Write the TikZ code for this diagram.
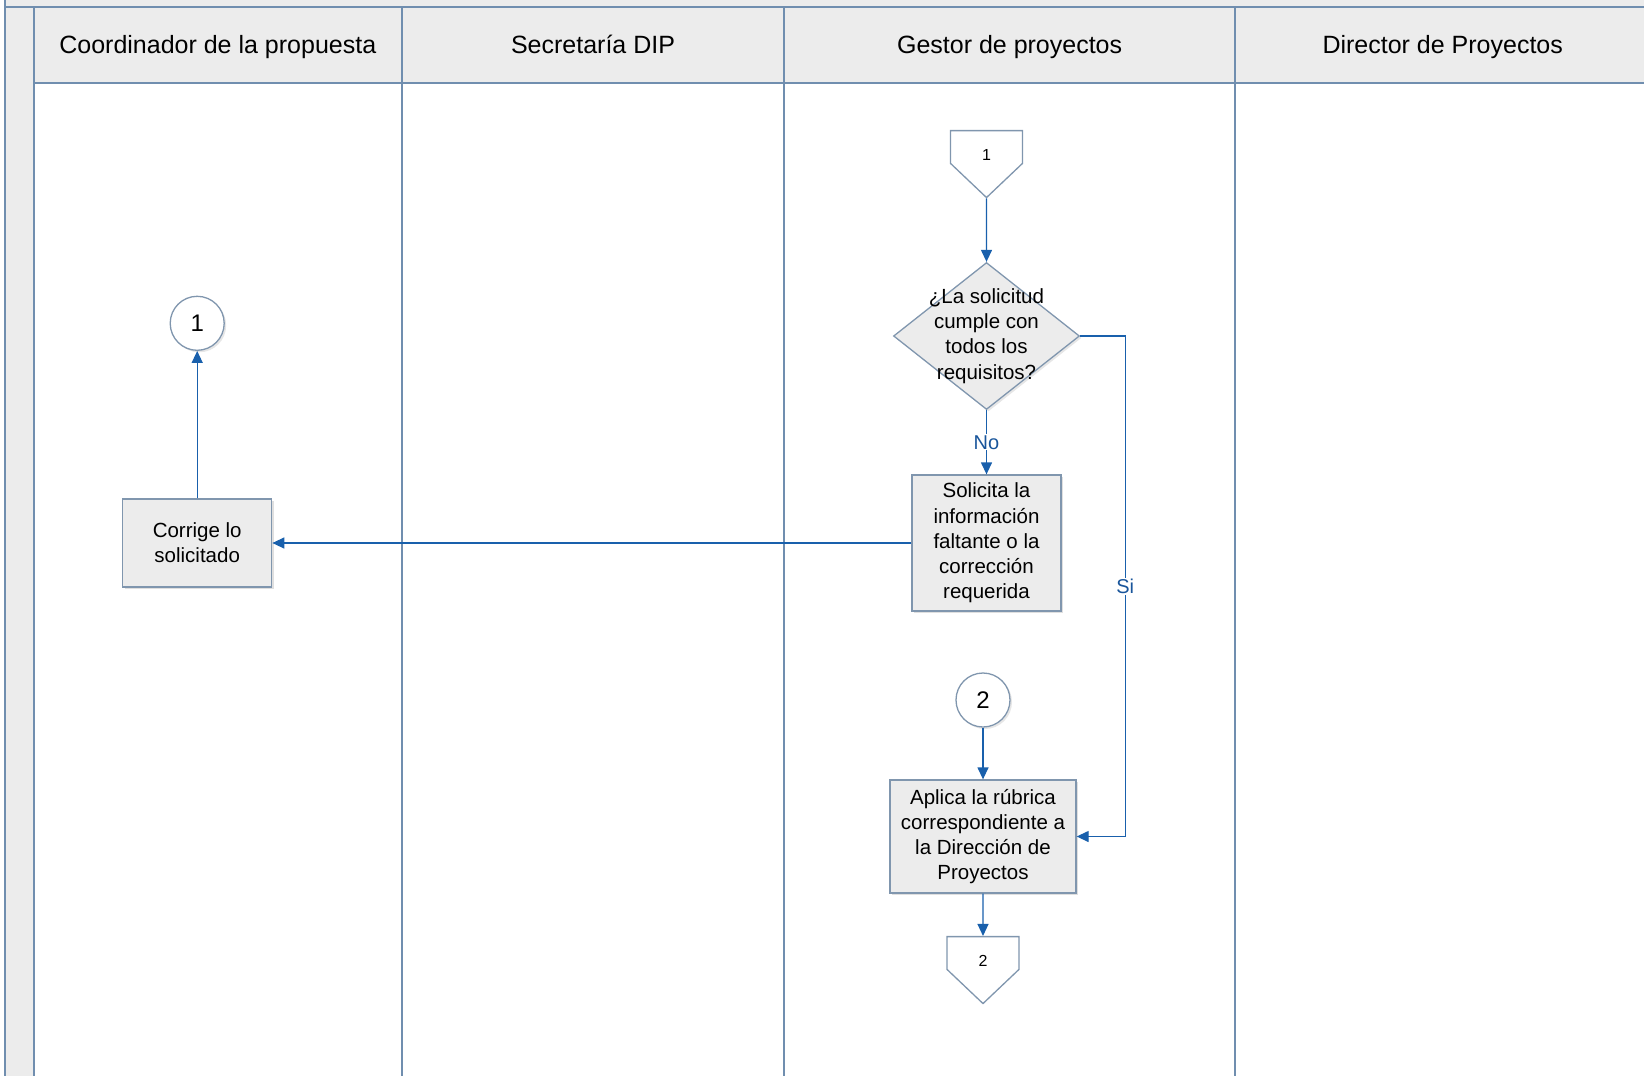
\documentclass[tikz,border=0pt]{standalone}
\usepackage{fontspec}
\setmainfont{Liberation Sans}
\usetikzlibrary{arrows.meta,shapes.geometric,shapes.symbols,shadows}

\definecolor{laneline}{RGB}{112,142,175}
\definecolor{boxline}{RGB}{128,150,174}
\definecolor{flowblue}{RGB}{25,96,172}
\definecolor{labelblue}{RGB}{25,85,155}
\definecolor{boxfill}{RGB}{236,236,236}

\tikzset{
  lane/.style={draw=laneline, line width=2pt},
  heading/.style={anchor=base, font=\fontsize{25}{30}\selectfont},
  task/.style={draw=boxline, fill=boxfill, line width=1.3pt, align=center,
    inner sep=0pt, font=\fontsize{20.5}{25.2}\selectfont,
    drop shadow={shadow xshift=2pt, shadow yshift=-2pt, opacity=0.25}},
  decision/.style={diamond, draw=boxline, fill=boxfill, line width=1.3pt,
    minimum width=186pt, minimum height=147pt, inner sep=0pt,
    drop shadow={shadow xshift=2pt, shadow yshift=-2pt, opacity=0.2}},
  conn/.style={circle, draw=boxline, fill=white, line width=1.3pt,
    minimum size=54pt, inner sep=0pt, font=\fontsize{24}{28}\selectfont,
    drop shadow={shadow xshift=2pt, shadow yshift=-2pt, opacity=0.2}},
  offpage/.style={signal, signal to=south, signal from=nowhere,
    signal pointer angle=93, draw=boxline, fill=white, line width=1.3pt,
    minimum width=72pt, minimum height=37pt, inner sep=0pt,
    text height=27pt, text depth=0pt,
    font=\fontsize{16}{20}\selectfont},
  flow/.style={->, draw=flowblue, line width=1.3pt},
  flowlabel/.style={fill=white, text=labelblue, inner sep=1pt,
    font=\fontsize{20}{24}\selectfont}
}

\begin{document}
\begin{tikzpicture}[x=1pt, y=-1pt, >={Triangle[width=11pt,length=12pt]}]
\useasboundingbox (0,0) rectangle (1644,1076);

% pool and lanes
\fill[boxfill] (5,-20) rectangle (1660,7);
\fill[boxfill] (5,7) rectangle (34,1090);
\fill[boxfill] (34,7) rectangle (1660,83);
\draw[lane] (5,-20) -- (5,1090);
\draw[lane] (5,7) -- (1660,7);
\draw[lane] (34,83) -- (1660,83);
\foreach \x in {34,401.6,784.3,1235}
  \draw[lane] (\x,7) -- (\x,1090);

\node[heading] (h1) at (217.8,53.3) {Coordinador de la propuesta};
\node[heading] (h2) at (593,53.3) {Secretaría DIP};
\node[heading] (h3) at (1009.6,53.3) {Gestor de proyectos};
\node[heading] (h4) at (1442.7,53.3) {Director de Proyectos};

% shapes
\node[offpage] (1) at (986.5,147) {1};

\node[decision, label={[align=center, font=\fontsize{20.5}{25.2}\selectfont]center:{¿La solicitud\\cumple con\\todos los\\requisitos?}}] (2) at (986.5,336) {};

\node[task, minimum width=149pt, minimum height=136pt] (3) at (986.5,543)
{Solicita la\\información\\faltante o la\\corrección\\requerida};

\node[task, minimum width=149pt, minimum height=88pt] (4) at (197.2,543)
{Corrige lo\\solicitado};

\node[conn] (5) at (197.2,323.3) {1};

\node[conn] (6) at (983,700) {2};

\node[task, minimum width=186pt, minimum height=113pt] (7) at (983,836.5)
{Aplica la rúbrica\\correspondiente a\\la Dirección de\\Proyectos};

\node[offpage] (8) at (983,953) {2};

% connectors
\draw[flow] (1) -- (2);

\draw[flow] (2) -- node[flowlabel] {No} (3);

\draw[flow] (2.east) -- ++(45,0) |- node[flowlabel, pos=0.25] {Si} (7.east);

\draw[flow] (3) -- (4);

\draw[flow] (4) -- (5);

\draw[flow] (6) -- (7);

\draw[flow] (7) -- (8);

\end{tikzpicture}
\end{document}
